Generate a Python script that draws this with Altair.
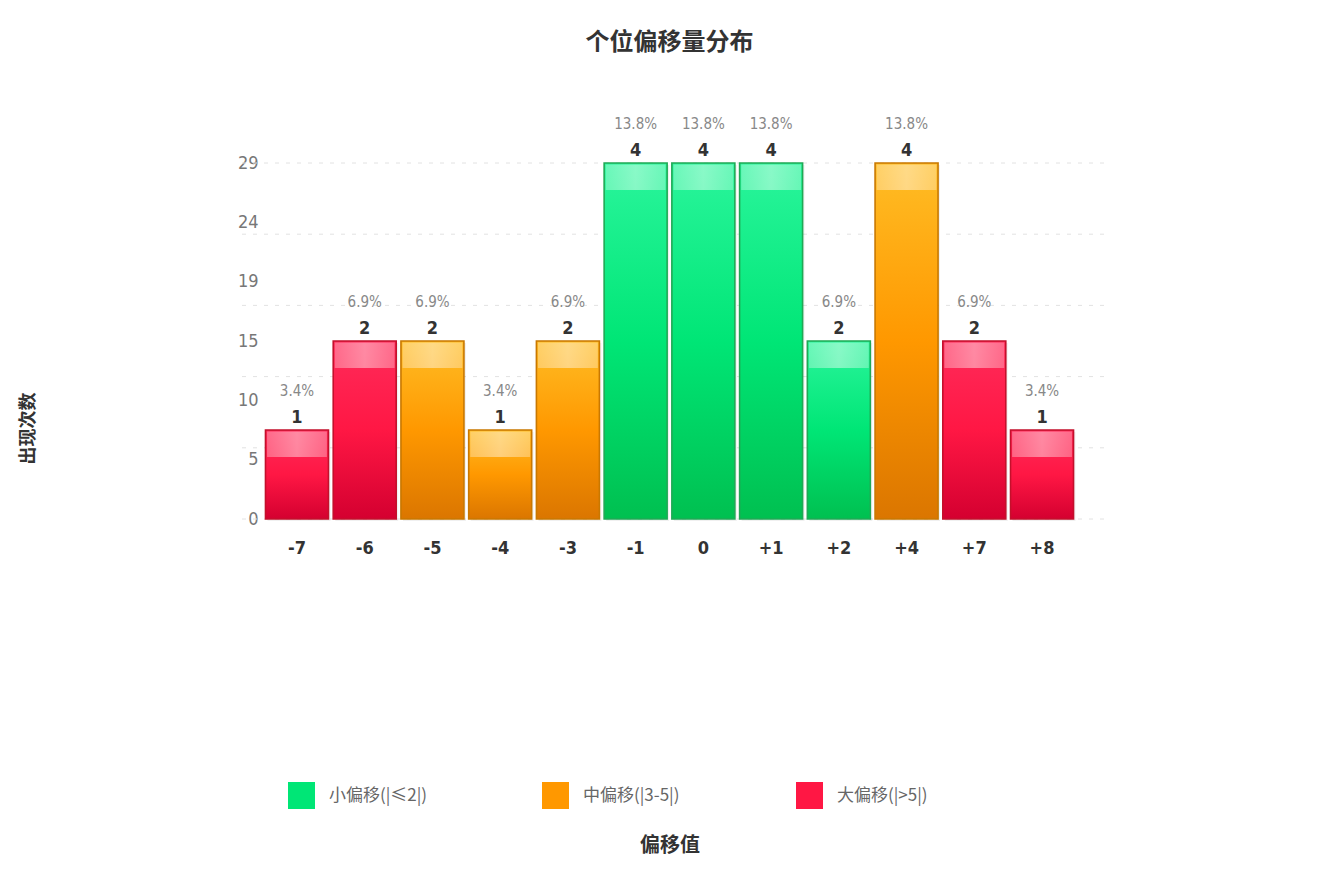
import json
import altair as alt
import pandas as pd

# ---------------- data ----------------
categories = ["-7", "-6", "-5", "-4", "-3", "-1", "0", "+1", "+2", "+4", "+7", "+8"]
counts = [1, 2, 2, 1, 2, 4, 4, 4, 2, 4, 2, 1]
group_small = "小偏移(|≤2|)"
group_mid = "中偏移(|3-5|)"
group_big = "大偏移(|>5|)"
groups = [group_big, group_big, group_mid, group_mid, group_mid,
          group_small, group_small, group_small, group_small,
          group_mid, group_big, group_big]
legend_labels = [group_small, group_mid, group_big]
legend_colors = ["#00e676", "#ff9800", "#ff1744"]

y_tick_values = [0, 0.6667, 1.3333, 2, 2.6667, 3.3333, 4]
y_tick_labels = ["0", "5", "10", "15", "19", "24", "29"]
grid_values = [0, 0.8, 1.6, 2.4, 3.2, 4]

total = sum(counts)
pct = [f"{c / total * 100:.1f}%" for c in counts]

df = pd.DataFrame({"cat": categories, "count": counts, "grp": groups, "pct": pct})
grid_df = pd.DataFrame({"count": grid_values})

# ---------------- styles ----------------
NUM_FONT = "Liberation Sans Narrow, DejaVu Sans Condensed, Noto Sans CJK SC"
CJK_FONT = "Noto Sans CJK SC"


def vgrad(c0, c1, c2):
    return {"gradient": "linear", "x1": 0, "y1": 0, "x2": 0, "y2": 1,
            "stops": [{"offset": 0, "color": c0},
                      {"offset": 0.5, "color": c1},
                      {"offset": 1, "color": c2}]}


styles = {
    group_small: (vgrad("#2af59c", "#00e676", "#00c050"), "#1fa955"),
    group_mid: (vgrad("#ffbd25", "#ff9800", "#db7600"), "#c97800"),
    group_big: (vgrad("#ff2b5a", "#ff1744", "#d40030"), "#c4102c"),
}

highlight = {"gradient": "linear", "x1": 0, "y1": 0, "x2": 1, "y2": 0,
             "stops": [{"offset": 0, "color": "rgba(255,255,255,0.30)"},
                       {"offset": 0.5, "color": "rgba(255,255,255,0.45)"},
                       {"offset": 1, "color": "rgba(255,255,255,0.30)"}]}

label_expr = f"{json.dumps(y_tick_labels)}[indexof({json.dumps(y_tick_values)}, datum.value)]"

X = alt.X(
    "cat:N",
    scale=alt.Scale(domain=categories, paddingInner=0.07, paddingOuter=0.45),
    axis=alt.Axis(
        labelAngle=0, labelFontSize=18, labelFontWeight="bold", labelColor="#333333",
        labelFont=NUM_FONT, labelBaseline="middle", labelPadding=29,
        domain=False, ticks=False, grid=False,
        title="偏移值", titleFont=CJK_FONT, titleFontSize=20, titleFontWeight="bold",
        titleColor="#333333", titleY=326, titleBaseline="middle",
    ),
)
Y = alt.Y(
    "count:Q",
    scale=alt.Scale(domain=[0, 4], nice=False),
    axis=alt.Axis(
        values=y_tick_values, labelExpr=label_expr, grid=False, domain=False, ticks=False,
        labelPadding=-23, labelFontSize=18, labelColor="#777777", labelFont=NUM_FONT,
        title="出现次数", titleFont=CJK_FONT, titleFontSize=18, titleFontWeight="bold",
        titleColor="#333333", titleX=-207, titleY=265, titleBaseline="middle",
        titleAlign="center",
    ),
)

base = alt.Chart(df)

grid = alt.Chart(grid_df).mark_rule(
    color="#e2e2e2", strokeWidth=1, strokeDash=[4, 7]
).encode(y=Y)

shadow = base.mark_bar(
    fill="#000000", opacity=0.06, xOffset=2, yOffset=2, y2Offset=5
).encode(x=X, y=Y)

bar_layers = []
for g in legend_labels:
    fill, stroke = styles[g]
    bar_layers.append(
        base.transform_filter(alt.datum.grp == g)
        .mark_bar(fill=fill, stroke=stroke, strokeWidth=1.6)
        .encode(x=X, y=Y)
    )

hl = base.mark_bar(
    fill=highlight, yOffset=1.5, y2Offset=27, width=alt.RelativeBandSize(0.95)
).encode(x=X, y=Y, y2=alt.Y2("count:Q"))

legend_layer = base.mark_bar().encode(
    x=X,
    y=alt.datum(0),
    y2=alt.datum(0),
    color=alt.Color(
        "grp:N",
        scale=alt.Scale(domain=legend_labels, range=legend_colors),
        legend=alt.Legend(
            orient="none", legendX=53, legendY=619, direction="horizontal", title=None,
            symbolType="square", symbolSize=729, symbolStrokeWidth=0, symbolOpacity=1,
            labelFontSize=17, labelColor="#666666", labelFont=CJK_FONT, labelOffset=14,
            columnPadding=114, gridAlign="all", padding=0,
        ),
    ),
)

count_text = base.mark_text(
    dy=-3, baseline="bottom", fontSize=18, fontWeight="bold", color="#333333", font=NUM_FONT
).encode(x=X, y=Y, text="count:Q")

pct_text = base.mark_text(
    dy=-31, baseline="bottom", fontSize=15, color="#888888", font=NUM_FONT
).encode(x=X, y=Y, text="pct:N")

chart = alt.layer(
    grid, shadow, *bar_layers, hl, legend_layer, count_text, pct_text
).properties(
    width=869,
    height=356,
    autosize=alt.AutoSizeParams(type="none"),
    padding={"left": 227, "top": 155, "right": 217, "bottom": 345},
    background="#ffffff",
    title=alt.TitleParams(
        "个位偏移量分布", font=CJK_FONT, fontSize=24, fontWeight="bold", color="#333333",
        anchor="middle", frame="group", offset=62,
    ),
).configure_view(stroke=None)

chart.save("out.html", embed_options={"renderer": "svg", "actions": False})
